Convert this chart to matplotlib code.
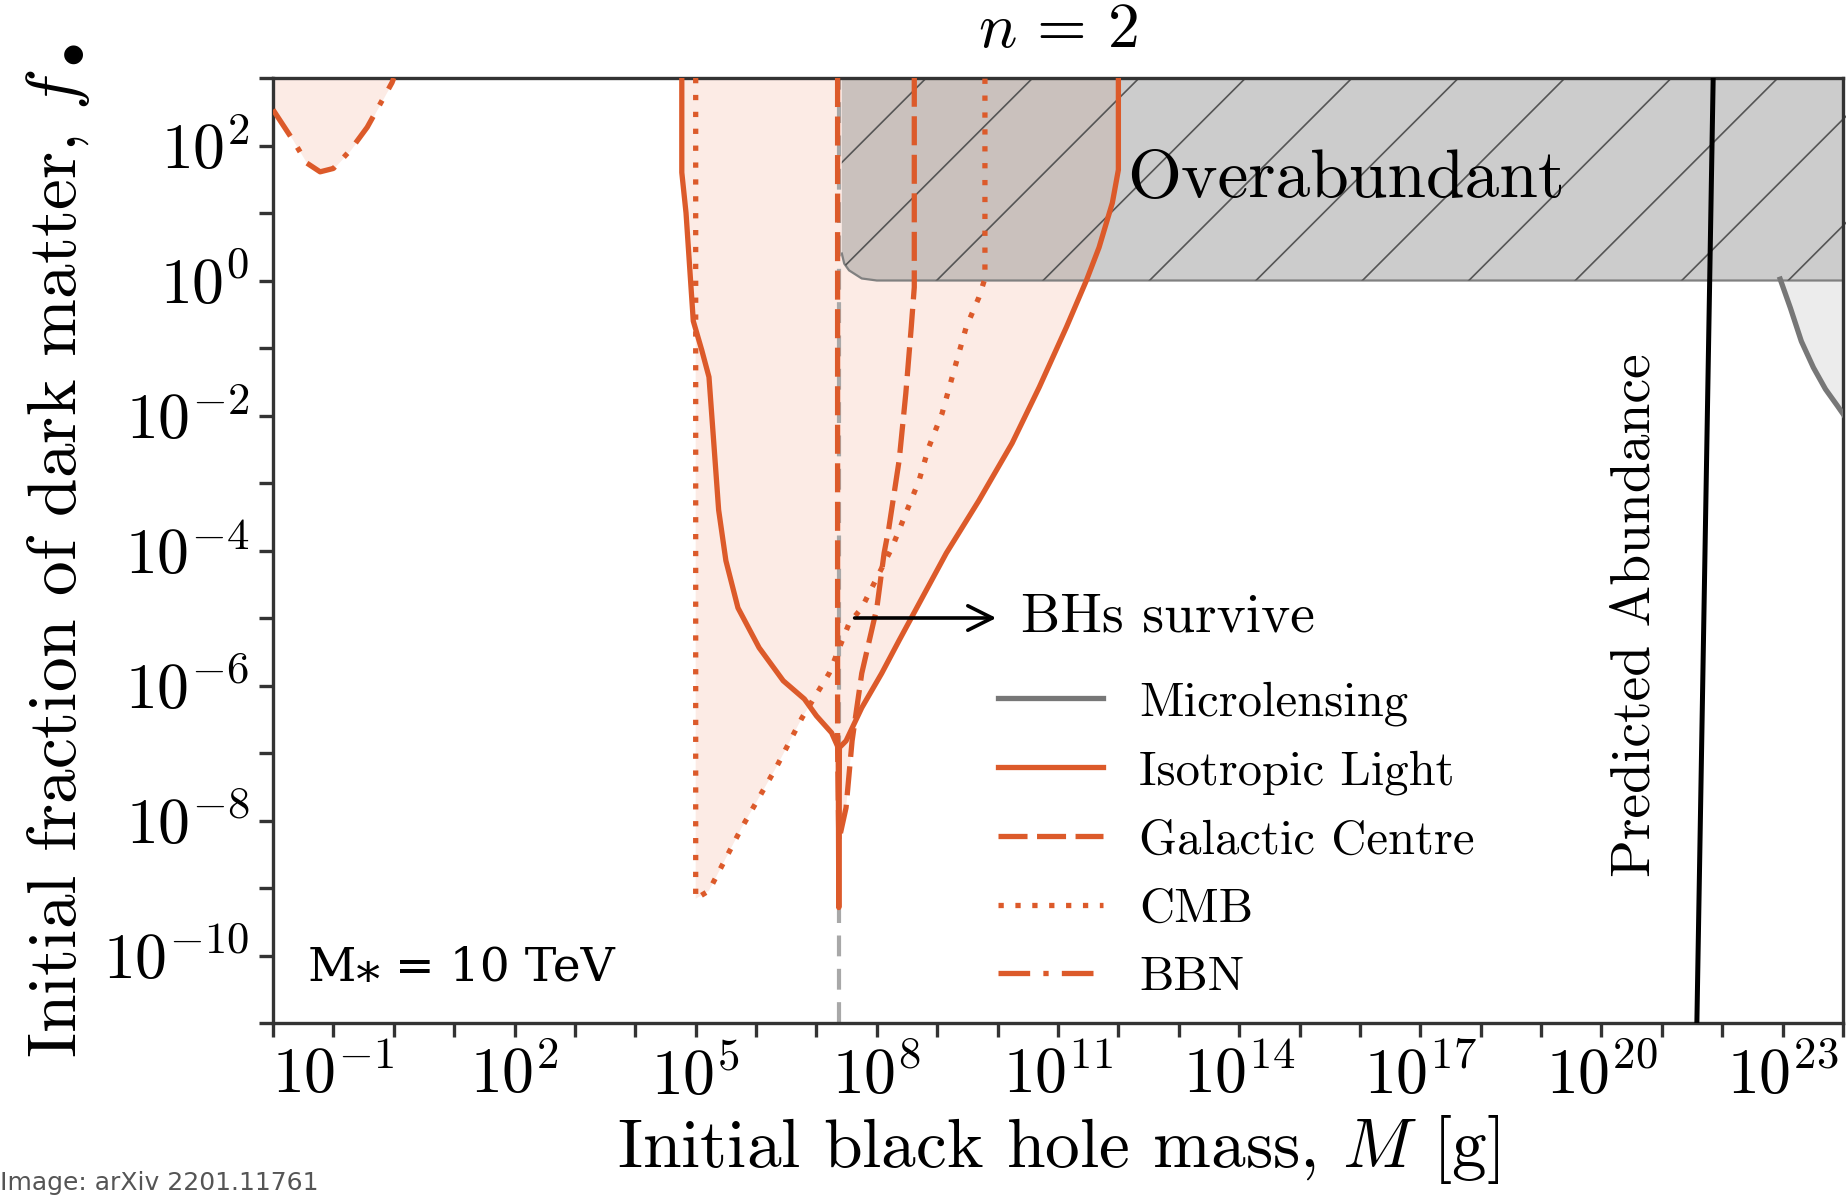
import matplotlib.pyplot as plt
import numpy as np
from matplotlib.collections import LineCollection
from matplotlib.lines import Line2D
from matplotlib.ticker import FixedLocator, FuncFormatter, NullLocator

plt.rcParams["font.family"] = "serif"
plt.rcParams["font.serif"] = ["cmr10"]
plt.rcParams["mathtext.fontset"] = "cm"
plt.rcParams["axes.formatter.use_mathtext"] = True

ORANGE = "#dc5a2a"
PINK = "#fcebe5"

# all curves as log10(M / g), log10(f)
iso_logM = [4.77, 4.77, 4.84, 4.90, 4.96, 5.10, 5.22, 5.30, 5.38, 5.50, 5.70, 6.05, 6.45,
            6.80, 7.00, 7.25, 7.36, 7.37, 7.38, 7.49, 7.75, 8.08, 8.37, 9.15, 9.69,
            10.24, 10.69, 11.14, 11.47, 11.68, 11.90, 12.0, 12.0]
iso_logf = [3.0, 1.60, 1.00, 0.20, -0.60, -1.03, -1.43, -2.41, -3.40, -4.15, -4.85, -5.44, -5.93,
            -6.20, -6.45, -6.70, -6.92, -9.29, -6.92, -6.82, -6.33, -5.82, -5.33, -4.04, -3.26,
            -2.41, -1.58, -0.69, 0.0, 0.49, 1.15, 1.64, 3.0]

cmb_logM = [5.0, 5.0, 5.22, 5.76, 6.33, 6.76, 7.21, 7.54, 7.75, 8.25, 8.48, 8.70,
            8.86, 9.08, 9.31, 9.48, 9.69, 9.79, 9.79]
cmb_logf = [3.0, -9.16, -9.04, -8.11, -7.22, -6.48, -5.82, -5.08, -4.85, -3.96, -3.45, -2.96,
            -2.47, -1.97, -1.23, -0.69, -0.25, 0.03, 3.0]

gc_logM = [7.35, 7.35, 7.37, 7.49, 7.59, 7.75, 8.0, 8.12, 8.20, 8.37, 8.48, 8.57, 8.62, 8.62]
gc_logf = [3.0, -6.9, -8.3, -7.81, -6.82, -5.82, -4.85, -4.04, -3.66, -2.66, -1.67, -0.69, -0.10, 3.0]

bbn_logM = [-2.0, -1.67, -1.44, -1.22, -1.0, -0.72, -0.44, -0.03, 0.0]
bbn_logf = [2.53, 2.08, 1.74, 1.61, 1.66, 1.93, 2.27, 2.93, 3.0]

micro_logM = [22.96, 23.13, 23.31, 23.51, 23.71, 23.91, 24.05]
micro_logf = [0.02, -0.41, -0.90, -1.29, -1.61, -1.86, -2.04]

over_logM = [7.42, 7.42, 7.46, 7.54, 7.75, 8.0, 24.1, 24.1]
over_logf = [3.0, 0.40, 0.25, 0.15, 0.03, 0.0, 0.0, 3.0]

pred_logM = [21.58, 21.85]
pred_logf = [-11.0, 3.0]

survive_logM = 7.37
arrow_logM = [7.54, 10.07]
arrow_logf = -5.0


def lin(a):
    return 10.0 ** np.asarray(a)


fig = plt.figure(figsize=(9.23, 5.985), dpi=200)
ax = fig.add_axes([273 / 1846, 174 / 1197, 1570 / 1846, 945 / 1197])
ax.set_xscale("log")
ax.set_yscale("log")
ax.set_xlim(1e-2, 1e24)
ax.set_ylim(1e-11, 1e3)

# excluded regions
for xs, ys in [(iso_logM, iso_logf), (cmb_logM, cmb_logf), (gc_logM, gc_logf)]:
    ax.fill(lin(xs), lin(ys), color=PINK, lw=0, zorder=1)
ax.fill_between(lin(bbn_logM), lin(bbn_logf), 1e3, color=PINK, lw=0, zorder=1)
ax.fill_between(lin(micro_logM), lin(micro_logf), 1.0, color="#ececec", lw=0, zorder=1)

# overabundant region, hatched
over = ax.fill(lin(over_logM), lin(over_logf), facecolor="#8c8c8c", alpha=0.44,
               lw=0, zorder=2)[0]
ax.plot(lin(over_logM[1:-1]), lin(over_logf[1:-1]), color="#808080", lw=0.8, zorder=2)
u0 = 0.5586 + 0.0678 * np.arange(-12, 8)
hatch = [[(u - 0.7862 * 0.6019, 0.0), (u + (1 - 0.7862) * 0.6019, 1.0)] for u in u0]
lc = LineCollection(hatch, colors="#555555", linewidths=0.6, transform=ax.transAxes, zorder=2)
lc.set_clip_path(over)
ax.add_collection(lc)

ax.axvline(10 ** survive_logM, color="#a8a8a8", ls=(0, (5, 3)), lw=1.5, zorder=2)

lw = 1.9
ax.plot(lin(micro_logM), lin(micro_logf), color="#777777", lw=lw, zorder=3)
ax.plot(lin(gc_logM), lin(gc_logf), color=ORANGE, lw=lw, ls=(0, (5.5, 1.8)), zorder=3)
ax.plot(lin(cmb_logM), lin(cmb_logf), color=ORANGE, lw=lw, ls=(0, (1, 2.2)), zorder=3)
ax.plot(lin(bbn_logM), lin(bbn_logf), color=ORANGE, lw=lw, ls=(0, (6, 2.5, 1, 2.5)), zorder=3)
ax.plot(lin(iso_logM), lin(iso_logf), color=ORANGE, lw=lw, zorder=4)
ax.plot(lin(pred_logM), lin(pred_logf), color="black", lw=1.8, zorder=5)

ax.annotate("", xy=(10 ** arrow_logM[1], 10 ** arrow_logf),
            xytext=(10 ** arrow_logM[0], 10 ** arrow_logf),
            arrowprops=dict(arrowstyle="->", color="black", lw=1.3, mutation_scale=22), zorder=6)
ax.text(10 ** 10.39, 10 ** arrow_logf, "BHs survive", fontsize=20, va="center", ha="left")
ax.text(10 ** 12.15, 10 ** 1.24, "Overabundant", fontsize=25, va="baseline", ha="left", zorder=6)
ax.text(0.868, 0.432, "Predicted Abundance", fontsize=20, rotation=90,
        transform=ax.transAxes, ha="center", va="center")
ax.text(0.022, 0.044, "M\u204e = 10 TeV", transform=ax.transAxes, fontsize=17,
        family=["DejaVu Serif", "DejaVu Sans"], va="baseline", zorder=6)

handles = [
    Line2D([], [], color="#777777", lw=lw),
    Line2D([], [], color=ORANGE, lw=lw),
    Line2D([], [], color=ORANGE, lw=lw, ls=(0, (5.5, 1.8))),
    Line2D([], [], color=ORANGE, lw=lw, ls=(0, (1, 2.2))),
    Line2D([], [], color=ORANGE, lw=lw, ls=(0, (6, 2.5, 1, 2.5))),
]
labels = ["Microlensing", "Isotropic Light", "Galactic Centre", "CMB", "BBN"]
ax.legend(handles, labels, loc="upper left", bbox_to_anchor=(0.462, 0.362), frameon=False,
          fontsize=17.5, handlelength=2.15, handletextpad=0.75, labelspacing=0.5,
          borderpad=0, borderaxespad=0)

# ticks every decade, labelled every third (x) / second (y)
ax.xaxis.set_major_locator(FixedLocator(lin(np.arange(-2, 25))))
ax.yaxis.set_major_locator(FixedLocator(lin(np.arange(-11, 4))))
ax.xaxis.set_minor_locator(NullLocator())
ax.yaxis.set_minor_locator(NullLocator())


def fmt(step, off):
    def f(v, pos):
        e = int(round(np.log10(v)))
        return f"$10^{{{e}}}$" if (e + off) % step == 0 else ""
    return FuncFormatter(f)


ax.xaxis.set_major_formatter(fmt(3, 1))
ax.yaxis.set_major_formatter(fmt(2, 0))
ax.tick_params(direction="out", length=5, width=1.2, color="#333333", labelsize=23)
for s in ax.spines.values():
    s.set_color("#333333")
    s.set_linewidth(1.2)

ax.set_title("$n\\,=\\,2$", fontsize=23, pad=11)
ax.set_xlabel("Initial black hole mass, $M$ [g]", fontsize=25, labelpad=2)
ax.set_ylabel("Initial fraction of dark matter, $f_\\bullet$", fontsize=25, labelpad=4)

fig.text(0.0, 0.002, "Image: arXiv 2201.11761", va="bottom", ha="left",
         color="#555555", family="DejaVu Sans", fontsize=9)

fig.savefig("out.png", dpi=200)
